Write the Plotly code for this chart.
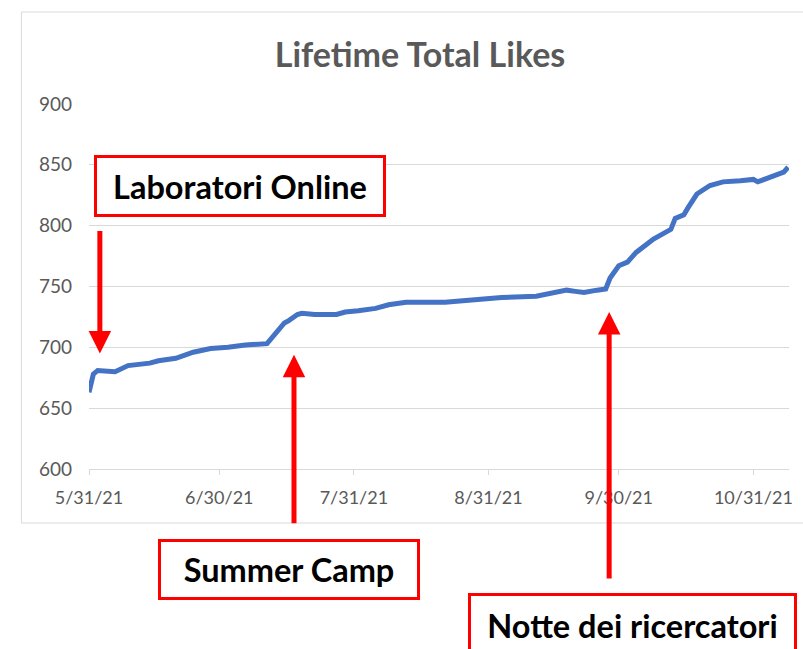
import plotly.graph_objects as go

# daily lifetime likes
dates = ["2021-05-31", "2021-06-01", "2021-06-02", "2021-06-05", "2021-06-06",
         "2021-06-09", "2021-06-14", "2021-06-16", "2021-06-20", "2021-06-24",
         "2021-06-28", "2021-07-02", "2021-07-06", "2021-07-11", "2021-07-13",
         "2021-07-15", "2021-07-16", "2021-07-18", "2021-07-19", "2021-07-22",
         "2021-07-27", "2021-07-29", "2021-08-01", "2021-08-05", "2021-08-08",
         "2021-08-12", "2021-08-21", "2021-08-28", "2021-09-03", "2021-09-11",
         "2021-09-14", "2021-09-18", "2021-09-20", "2021-09-22", "2021-09-25",
         "2021-09-27", "2021-09-28", "2021-09-30", "2021-10-02", "2021-10-04",
         "2021-10-08", "2021-10-11", "2021-10-12", "2021-10-13", "2021-10-15",
         "2021-10-16", "2021-10-18", "2021-10-21", "2021-10-24", "2021-10-28",
         "2021-10-31", "2021-11-01", "2021-11-04", "2021-11-06", "2021-11-07",
         "2021-11-08"]
likes = [663, 678, 681, 681, 680, 685, 687, 689, 691, 696,
         699, 700, 702, 703, 712, 720, 722, 727, 728, 727,
         727, 729, 730, 732, 735, 737, 737, 739, 741, 742,
         744, 747, 746, 745, 747, 748, 757, 767, 770, 778,
         789, 795, 797, 806, 809, 815, 826, 833, 836, 837,
         838, 836, 840, 842, 844, 848]

tick_dates = ["2021-05-31", "2021-06-30", "2021-07-31", "2021-08-31", "2021-09-30", "2021-10-31"]
tick_labels = ["5/31/21", "6/30/21", "7/31/21", "8/31/21", "9/30/21", "10/31/21"]

# events: label, arrow tip (date, likes)
events = ["Laboratori Online", "Summer Camp", "Notte dei ricercatori"]
event_dates = ["2021-06-02 12:00", "2021-07-17 05:00", "2021-09-27 19:00"]
event_likes = [695, 694, 729]

W, H = 803, 649
L, R, T, B = 89, 10, 104, 180
PW, PH = W - L - R, H - T - B


def px(x):
    return (x - L) / PW


def py(y):
    return (H - B - y) / PH


GREY = "#595959"
RED = "#FF0000"
FONT = "Lato"

fig = go.Figure()
fig.add_trace(go.Scatter(
    x=dates, y=likes, mode="lines",
    line=dict(color="#4472C4", width=5),
    showlegend=False,
))

fig.update_layout(
    width=W, height=H,
    margin=dict(l=L, r=R, t=T, b=B),
    paper_bgcolor="white", plot_bgcolor="white",
    font=dict(family=FONT, color=GREY),
    title=dict(text="<b>Lifetime Total Likes</b>", x=420 / W, xanchor="center",
               y=1 - 55 / H, yanchor="middle",
               font=dict(family=FONT, size=34, color=GREY)),
)
fig.update_yaxes(range=[600, 900], dtick=50, gridcolor="#d9d9d9", gridwidth=1,
                 showline=False, zeroline=False, ticks="",
                 tickfont=dict(family=FONT, size=19, color=GREY),
                 ticklabelstandoff=16)
fig.update_xaxes(type="date", range=["2021-05-31", "2021-11-08 05:00"],
                 tickvals=tick_dates, ticktext=tick_labels, showgrid=False,
                 showline=True, linecolor="#d9d9d9", linewidth=1,
                 ticks="outside", tickcolor="#d9d9d9", ticklen=5,
                 tickfont=dict(family=FONT, size=18, color=GREY),
                 ticklabelstandoff=7)

# chart area border
fig.add_shape(type="rect", xref="paper", yref="paper",
              x0=px(21), x1=px(812), y0=py(523), y1=py(12),
              line=dict(color="#d9d9d9", width=1), layer="below")

# arrows: (tail offset in pixels)
tails = [-124, 170, 268]
for d, v, ay in zip(event_dates, event_likes, tails):
    fig.add_annotation(x=d, y=v, xref="x", yref="y", text="", showarrow=True,
                       ax=0, ay=ay, arrowcolor=RED, arrowwidth=5,
                       arrowhead=2, arrowsize=0.9)

# labelled boxes: centre and size in pixels
boxes = [(240.5, 185.5, 286, 56), (290.5, 569, 256, 55), (636, 625, 323, 59)]
for label, (cx, cy, bw, bh) in zip(events, boxes):
    fig.add_annotation(x=px(cx), y=py(cy), xref="paper", yref="paper",
                       text="<b>" + label + "</b>", showarrow=False,
                       xanchor="center", yanchor="middle",
                       width=bw, height=bh, borderpad=0, borderwidth=3,
                       bordercolor=RED, bgcolor="white",
                       font=dict(family=FONT, size=32.5, color="black"))

# drop the default page margin so the figure sits at the window origin
fig.write_html("out.html", config={"displayModeBar": False},
               post_script="document.body.style.margin='0';document.body.style.overflow='hidden';")
